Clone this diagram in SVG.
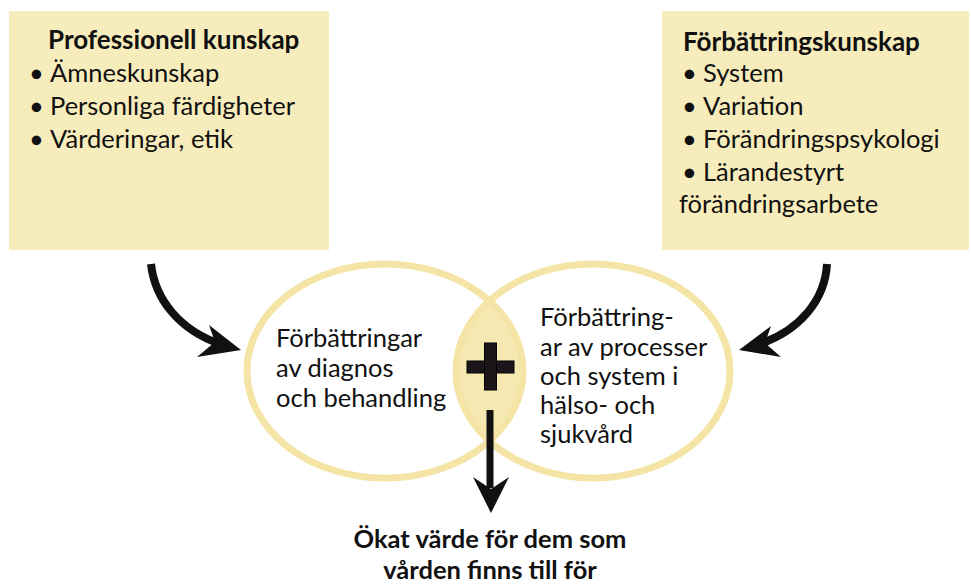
<svg xmlns="http://www.w3.org/2000/svg" width="971" height="585" viewBox="0 0 971 585">
<defs>
<style>
.box{fill:#f7ecbb;}
.ell{fill:none;stroke:#f4e5a6;stroke-width:7;}
.t{font-family:Lato,"Noto Sans","Liberation Sans",sans-serif;font-size:25.5px;fill:#111;}
.b{font-weight:bold;font-size:26px;}
.shaft{fill:none;stroke:#111;stroke-width:8;stroke-linecap:butt;}
.head{fill:#111;}
</style>
<clipPath id="clipL"><ellipse cx="385" cy="371" rx="138" ry="107"/></clipPath>
</defs>
<rect width="971" height="585" fill="#fff"/>
<g id="box-professionell">
<rect class="box" x="9" y="11" width="320" height="239"/>
<text class="t b" x="48" y="49">Professionell kunskap</text>
<text class="t" x="29" y="82">•</text><text class="t" x="50" y="82">Ämneskunskap</text>
<text class="t" x="29" y="115">•</text><text class="t" x="50" y="115">Personliga färdigheter</text>
<text class="t" x="29" y="148">•</text><text class="t" x="50" y="148">Värderingar, etik</text>
</g>
<g id="box-forbattring">
<rect class="box" x="662" y="11" width="307" height="239"/>
<text class="t b" x="683" y="51">Förbättringskunskap</text>
<text class="t" x="682" y="82">•</text><text class="t" x="703" y="82">System</text>
<text class="t" x="682" y="115">•</text><text class="t" x="703" y="115">Variation</text>
<text class="t" x="682" y="148">•</text><text class="t" x="703" y="148">Förändringspsykologi</text>
<text class="t" x="682" y="181">•</text><text class="t" x="703" y="181">Lärandestyrt</text>
<text class="t" x="679" y="213">förändringsarbete</text>
</g>
<g id="lens">
<ellipse cx="593" cy="371" rx="137" ry="107" fill="#f5e8b1" clip-path="url(#clipL)"/>
</g>
<g id="ellipse-left">
<ellipse class="ell" cx="385" cy="371" rx="138" ry="107"/>
<text class="t" x="276" y="347">Förbättringar</text>
<text class="t" x="276" y="377">av diagnos</text>
<text class="t" x="276" y="407">och behandling</text>
</g>
<g id="ellipse-right">
<ellipse class="ell" cx="593" cy="371" rx="137" ry="107"/>
<text class="t" x="540" y="326">Förbättring-</text>
<text class="t" x="540" y="356">ar av processer</text>
<text class="t" x="540" y="385">och system i</text>
<text class="t" x="540" y="414">hälso- och</text>
<text class="t" x="540" y="443">sjukvård</text>
</g>
<g id="plus">
<rect x="467" y="361" width="47" height="12" fill="#1a1619" stroke="#000" stroke-width="1"/>
<rect x="484.5" y="343" width="12" height="47" fill="#1a1619" stroke="#000" stroke-width="1"/>
</g>
<g id="connectors">
<path class="shaft" d="M151,264 C155,300 180,330 220,344"/>
<polygon class="head" points="241,350 209,325 215,342 197,357"/>
<path class="shaft" d="M827,264 C825,300 800,330 760,344"/>
<polygon class="head" points="739,350 771,326 765,343 781,357"/>
<path class="shaft" d="M490,410 L490,488" style="stroke-width:7"/>
<polygon class="head" points="491,513 473,477 491,489 509,477"/>
</g>
<g id="result">
<text class="t b" text-anchor="middle" style="font-size:25.5px"><tspan x="490" y="548">Ökat värde för dem som</tspan><tspan x="490" y="579">vården finns till för</tspan></text>
</g>
</svg>
